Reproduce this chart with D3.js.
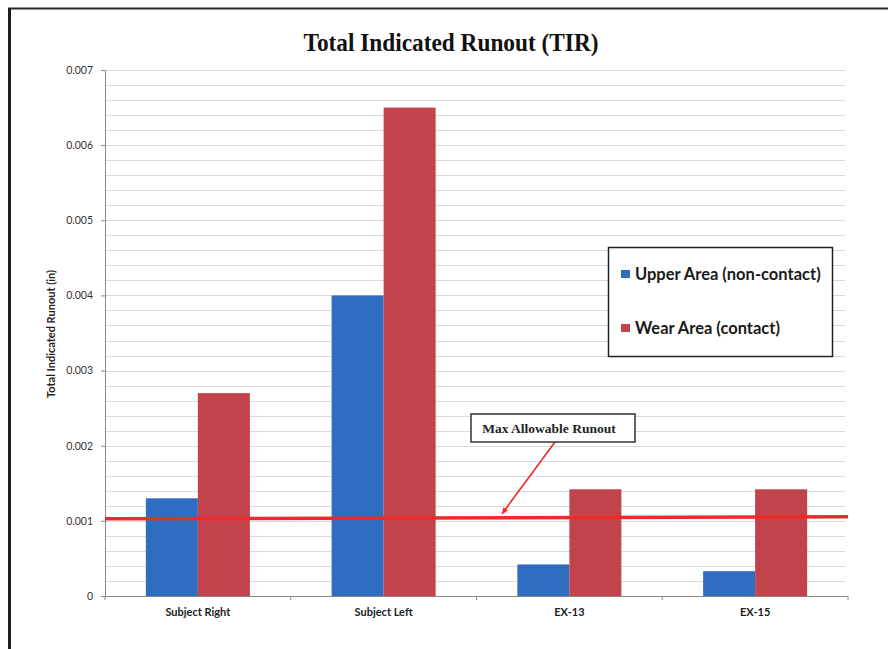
<!DOCTYPE html>
<html>
<head>
<meta charset="utf-8">
<script src="https://cdn.jsdelivr.net/npm/d3@7"></script>
<style>
  html, body { margin: 0; padding: 0; background: #fff; }
  svg { display: block; }
</style>
</head>
<body>
<svg id="chart" width="888" height="649"></svg>
<script>
// Runout measurements (inches) per part location
const categories = ["Subject Right", "Subject Left", "EX-13", "EX-15"];
const seriesNames = ["Upper Area (non-contact)", "Wear Area (contact)"];
const upperArea = [0.0013, 0.0040, 0.00042, 0.00033];
const wearArea = [0.0027, 0.0065, 0.00142, 0.00142];
const maxAllowable = 0.001;
const yTicks = [0, 0.001, 0.002, 0.003, 0.004, 0.005, 0.006, 0.007];
const yTickLabels = ["0", "0.001", "0.002", "0.003", "0.004", "0.005", "0.006", "0.007"];

const colors = ["#2f6dc1", "#c2434b"];
const svg = d3.select("#chart");

const plot = { left: 105, right: 848, top: 70, bottom: 596 };

const x = d3.scaleBand()
  .domain(categories)
  .range([plot.left, plot.right])
  .paddingInner(0.44)
  .paddingOuter(0.22);
const xSub = d3.scaleBand()
  .domain(seriesNames)
  .range([0, x.bandwidth()]);
const y = d3.scaleLinear().domain([0, 0.007]).range([plot.bottom, plot.top]);

// page frame
svg.append("line").attr("x1", 8).attr("x2", 888).attr("y1", 8.5).attr("y2", 8.5)
  .attr("stroke", "#2a2a2a").attr("stroke-width", 2);
svg.append("line").attr("x1", 9.5).attr("x2", 9.5).attr("y1", 8).attr("y2", 649)
  .attr("stroke", "#1e1e1e").attr("stroke-width", 3);

// title
svg.append("text")
  .attr("x", 451).attr("y", 51)
  .attr("text-anchor", "middle")
  .attr("font-family", "'Liberation Serif', 'DejaVu Serif', serif")
  .attr("font-weight", "bold")
  .attr("font-size", 25)
  .attr("textLength", 295)
  .attr("lengthAdjust", "spacingAndGlyphs")
  .attr("fill", "#111")
  .text("Total Indicated Runout (TIR)");

// gridlines every 0.0002
const gridVals = d3.range(0, 36).map(i => i * 0.0002);
svg.append("g").selectAll("line").data(gridVals.slice(1)).join("line")
  .attr("x1", plot.left).attr("x2", 845)
  .attr("y1", d => Math.round(y(d)) + 0.5).attr("y2", d => Math.round(y(d)) + 0.5)
  .attr("stroke", "#dadada").attr("stroke-width", 1);

// y axis
const yAxis = d3.axisLeft(y).tickValues(yTicks)
  .tickFormat((d, i) => yTickLabels[i]).tickSize(4).tickPadding(8);
const gy = svg.append("g").attr("transform", `translate(${plot.left},0)`).call(yAxis);
gy.select(".domain").attr("stroke", "#8a8a8a");
gy.selectAll(".tick line").attr("stroke", "#8a8a8a");
gy.selectAll(".tick text")
  .attr("font-family", "Lato, 'Open Sans', sans-serif")
  .attr("font-size", 10.5).attr("fill", "#333");

// y axis title
svg.append("text")
  .attr("transform", "translate(55,334) rotate(-90)")
  .attr("text-anchor", "middle")
  .attr("font-family", "Lato, 'Open Sans', sans-serif")
  .attr("font-weight", "bold").attr("font-size", 11).attr("fill", "#222")
  .text("Total Indicated Runout (in)");

// bars
const rows = categories.map((c, i) => ({ cat: c, vals: [upperArea[i], wearArea[i]] }));
const groups = svg.append("g").selectAll("g").data(rows).join("g")
  .attr("transform", d => `translate(${x(d.cat)},0)`);
groups.selectAll("rect")
  .data(d => d.vals.map((v, j) => ({ name: seriesNames[j], v, j })))
  .join("rect")
  .attr("x", d => xSub(d.name))
  .attr("width", xSub.bandwidth())
  .attr("y", d => y(d.v))
  .attr("height", d => y(0) - y(d.v))
  .attr("fill", d => colors[d.j]);

// x axis
const step = x.step();
const boundaries = d3.range(0, categories.length + 1).map(i => plot.left + i * step);
const gx = svg.append("g");
gx.append("line").attr("x1", plot.left).attr("x2", plot.right)
  .attr("y1", plot.bottom + 0.5).attr("y2", plot.bottom + 0.5)
  .attr("stroke", "#8a8a8a");
gx.selectAll("line.tk").data(boundaries).join("line").attr("class", "tk")
  .attr("x1", d => d).attr("x2", d => d)
  .attr("y1", plot.bottom).attr("y2", plot.bottom + 4)
  .attr("stroke", "#8a8a8a");
gx.selectAll("text").data(categories).join("text")
  .attr("x", d => x(d) + x.bandwidth() / 2)
  .attr("y", 616)
  .attr("text-anchor", "middle")
  .attr("font-family", "Lato, 'Open Sans', sans-serif")
  .attr("font-weight", "bold").attr("font-size", 11).attr("fill", "#222")
  .text(d => d);

// max allowable line
svg.append("line")
  .attr("x1", plot.left).attr("x2", plot.right)
  .attr("y1", y(maxAllowable) - 2).attr("y2", y(maxAllowable) - 4)
  .attr("stroke", "#ee2a2a").attr("stroke-width", 3.5);

// callout
const defs = svg.append("defs");
defs.append("marker").attr("id", "arrow")
  .attr("viewBox", "0 0 10 10").attr("refX", 9).attr("refY", 5)
  .attr("markerWidth", 7).attr("markerHeight", 7)
  .attr("markerUnits", "userSpaceOnUse")
  .attr("orient", "auto")
  .append("path").attr("d", "M0,1 L10,5 L0,9 Z").attr("fill", "#ee2a2a");
svg.append("line")
  .attr("x1", 555).attr("y1", 442)
  .attr("x2", 502).attr("y2", y(maxAllowable) - 7)
  .attr("stroke", "#ee2a2a").attr("stroke-width", 1.6)
  .attr("marker-end", "url(#arrow)");
svg.append("rect")
  .attr("x", 471).attr("y", 414).attr("width", 164).attr("height", 28)
  .attr("fill", "#fff").attr("stroke", "#333").attr("stroke-width", 1.5);
svg.append("text")
  .attr("x", 549).attr("y", 433)
  .attr("text-anchor", "middle")
  .attr("font-family", "'Liberation Serif', 'DejaVu Serif', serif")
  .attr("font-weight", "bold").attr("font-size", 13.5).attr("fill", "#222")
  .text("Max Allowable Runout");

// legend
const legend = svg.append("g");
legend.append("rect")
  .attr("x", 608.5).attr("y", 247.5).attr("width", 224).attr("height", 109)
  .attr("fill", "#fff").attr("stroke", "#222").attr("stroke-width", 1.5);
const entries = legend.selectAll("g").data(seriesNames).join("g")
  .attr("transform", (d, i) => `translate(621,${274 + i * 54})`);
entries.append("rect")
  .attr("x", 0).attr("y", -4).attr("width", 9).attr("height", 8)
  .attr("fill", (d, i) => colors[i]);
entries.append("text")
  .attr("x", 14).attr("y", 5.5)
  .attr("font-family", "Lato, 'Open Sans', sans-serif")
  .attr("font-weight", "bold").attr("font-size", 16.5).attr("fill", "#1a1a1a")
  .text(d => d);
</script>
</body>
</html>
